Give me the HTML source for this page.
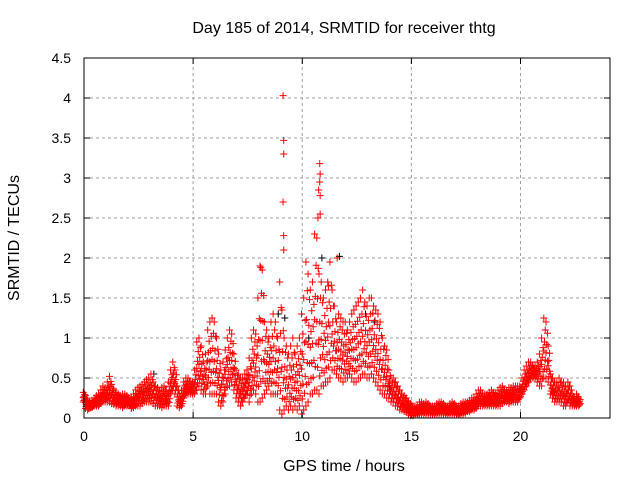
<!DOCTYPE html>
<html><head><meta charset="utf-8"><style>
body{margin:0;background:#fff;}
svg{display:block;font-family:"Liberation Sans",sans-serif;}
</style></head><body>
<svg id="chart" width="640" height="480">
<text x="344" y="33" font-size="16" text-anchor="middle">Day 185 of 2014, SRMTID for receiver thtg</text>
<text x="344" y="471" font-size="16" text-anchor="middle">GPS time / hours</text>
<text transform="translate(19,238) rotate(-90)" font-size="16" text-anchor="middle">SRMTID / TECUs</text>
<g id="grid"></g><g id="marks"></g>
<rect x="84" y="58" width="526" height="360" fill="none" stroke="#000" stroke-width="1"/>
</svg>
<script>
const xTicks=[0,5,10,15,20];
const yTicks=[0,0.5,1,1.5,2,2.5,3,3.5,4,4.5];
const yTickLabels=["0","0.5","1","1.5","2","2.5","3","3.5","4","4.5"];
const redLo=[0.2,0.12,0.1,0.12,0.13,0.15,0.15,0.15,0.18,0.2,
0.2,0.2,0.2,0.18,0.17,0.15,0.15,0.15,0.13,0.15,
0.15,0.15,0.12,0.13,0.15,0.15,0.15,0.18,0.2,0.2,
0.2,0.2,0.18,0.15,0.15,0.15,0.13,0.15,0.15,0.15,
0.3,0.35,0.3,0.15,0.13,0.15,0.25,0.3,0.3,0.3,
0.3,0.3,0.35,0.4,0.35,0.3,0.3,0.4,0.3,0.3,
0.3,0.3,0.2,0.15,0.2,0.3,0.4,0.4,0.45,0.35,
0.25,0.2,0.15,0.2,0.25,0.3,0.2,0.3,0.35,0.3,
0.2,0.2,0.25,0.3,0.35,0.4,0.3,0.3,0.3,0.3,
0.1,0.05,0.1,0.15,0.1,0.15,0.1,0.15,0.1,0.15,
0.05,0.1,0.15,0.2,0.3,0.3,0.35,0.35,0.3,0.4,
0.4,0.45,0.45,0.5,0.6,0.6,0.55,0.5,0.5,0.45,
0.5,0.5,0.55,0.5,0.45,0.45,0.5,0.5,0.55,0.55,
0.5,0.5,0.55,0.5,0.45,0.4,0.35,0.3,0.3,0.25,
0.25,0.2,0.2,0.15,0.15,0.1,0.1,0.08,0.07,0.05,
0.03,0.03,0.04,0.04,0.05,0.05,0.05,0.05,0.05,0.05,
0.05,0.05,0.05,0.05,0.05,0.05,0.05,0.05,0.05,0.05,
0.05,0.04,0.04,0.05,0.05,0.06,0.08,0.08,0.1,0.1,
0.12,0.15,0.15,0.15,0.15,0.15,0.15,0.15,0.15,0.15,
0.15,0.15,0.18,0.2,0.2,0.18,0.2,0.2,0.2,0.2,
0.25,0.3,0.35,0.4,0.45,0.5,0.5,0.5,0.45,0.4,
0.4,0.5,0.5,0.45,0.3,0.25,0.2,0.2,0.2,0.2,
0.15,0.15,0.2,0.15,0.15,0.15,0.15,0.15];
const redHi=[0.32,0.28,0.22,0.2,0.22,0.25,0.28,0.3,0.35,0.4,
0.38,0.45,0.52,0.42,0.35,0.32,0.3,0.28,0.3,0.3,
0.28,0.25,0.25,0.3,0.35,0.38,0.4,0.42,0.45,0.48,
0.5,0.55,0.45,0.4,0.38,0.35,0.38,0.4,0.35,0.45,
0.6,0.7,0.6,0.4,0.3,0.35,0.45,0.5,0.5,0.45,
0.45,0.6,0.95,1.0,0.9,0.7,0.8,1.1,1.2,1.25,
1.2,1.0,0.8,0.6,0.7,0.85,1.0,1.1,1.05,0.8,
0.6,0.55,0.5,0.5,0.55,0.6,0.75,1.0,1.1,1.05,
1.5,1.9,1.85,1.2,1.1,1.0,1.2,1.3,1.2,1.0,
1.7,1.35,1.0,0.9,0.8,0.9,1.0,0.8,0.9,1.0,
1.3,1.5,1.95,1.8,1.6,1.7,2.3,2.25,1.8,1.7,
1.5,1.6,1.7,1.95,1.6,1.4,1.2,1.3,1.25,1.2,
1.2,1.1,1.2,1.3,1.35,1.4,1.45,1.5,1.6,1.45,
1.4,1.5,1.5,1.4,1.35,1.3,1.2,1.0,0.9,0.85,
0.6,0.5,0.5,0.45,0.4,0.35,0.3,0.28,0.25,0.2,
0.18,0.15,0.15,0.15,0.2,0.2,0.18,0.2,0.18,0.15,
0.15,0.15,0.18,0.2,0.2,0.18,0.15,0.15,0.18,0.2,
0.18,0.15,0.15,0.18,0.2,0.2,0.2,0.22,0.25,0.25,
0.3,0.35,0.35,0.3,0.3,0.3,0.32,0.35,0.32,0.3,
0.35,0.38,0.4,0.35,0.35,0.38,0.38,0.4,0.4,0.4,
0.4,0.5,0.6,0.65,0.7,0.7,0.65,0.65,0.7,0.8,
1.0,1.25,1.2,0.9,0.55,0.5,0.45,0.45,0.5,0.45,
0.45,0.4,0.45,0.4,0.3,0.25,0.3,0.25];
const spikeTimes=[9.12,9.15,9.15,9.12,9.15,9.15,10.8,10.82,10.8,10.75,10.82,10.82,10.72,8.1,11.6,11.2];
const spikeValues=[4.03,3.47,3.3,2.7,2.28,2.1,3.18,3.05,2.95,2.85,2.78,2.55,2.5,1.88,2.0,1.65];
const blackTimes=[8.9,9.2,10.3,10.9,11.7,12.9,13.3,3.2,14.0,20.6];
const blackValues=[1.3,1.25,1.0,2.0,2.02,1.3,1.2,0.55,0.4,0.6];

const NS="http://www.w3.org/2000/svg";
const X0=84,X1=610,Y0=418,Y1=58;
const xs=h=>X0+h*(X1-X0)/24.1;
const ys=v=>Y0-v*(Y0-Y1)/4.5;
const grid=document.getElementById('grid'),marks=document.getElementById('marks');
function mk(tag,at,parent){const e=document.createElementNS(NS,tag);for(const k in at)e.setAttribute(k,at[k]);parent.appendChild(e);return e;}
yTicks.forEach((v,i)=>{
  const y=ys(v);
  if(i>0&&i<yTicks.length-1){const g=mk('line',{x1:X0,x2:X1,y1:y,y2:y,stroke:'#a0a0a0','stroke-dasharray':'3,3'},grid);
  
  }
  mk('line',{x1:X0,x2:X0+6,y1:y,y2:y,stroke:'#000'},grid);
  mk('line',{x1:X1,x2:X1-6,y1:y,y2:y,stroke:'#000'},grid);
  const t=mk('text',{x:X0-13,y:y+5,'font-size':14,'text-anchor':'end'},grid);t.textContent=yTickLabels[i];
  
  
});
xTicks.forEach(v=>{
  const x=xs(v);
  if(v>0){const g=mk('line',{x1:x,x2:x,y1:Y0,y2:Y1,stroke:'#a0a0a0','stroke-dasharray':'3,3'},grid);
  
  }
  mk('line',{x1:x,x2:x,y1:Y0,y2:Y0-6,stroke:'#000'},grid);
  mk('line',{x1:x,x2:x,y1:Y1,y2:Y1+6,stroke:'#000'},grid);
  const t=mk('text',{x:x,y:Y0+23,'font-size':14,'text-anchor':'middle'},grid);t.textContent=String(v);
  
  
});
function cross(h,v,col,name){
  const x=xs(h),y=ys(v);
  const p=mk('path',{d:`M${x-3.5},${y}h7M${x},${y-3.5}v7`,stroke:col,'stroke-width':1,fill:'none'},marks);
  
  
}
blackTimes.forEach((h,i)=>cross(h,blackValues[i],'#000','black-point'));
const fr=[0,0.15,0.3,0.45,0.6,0.8,1];
redLo.forEach((lo,i)=>{
  const hi=redHi[i],h=i*0.1;
  fr.forEach((f,j)=>cross(h+(j%3-1)*0.033,lo+(hi-lo)*f,'#f00','red-point'));
});
spikeTimes.forEach((h,i)=>cross(h,spikeValues[i],'#f00','red-spike-point'));
</script>
</body></html>
